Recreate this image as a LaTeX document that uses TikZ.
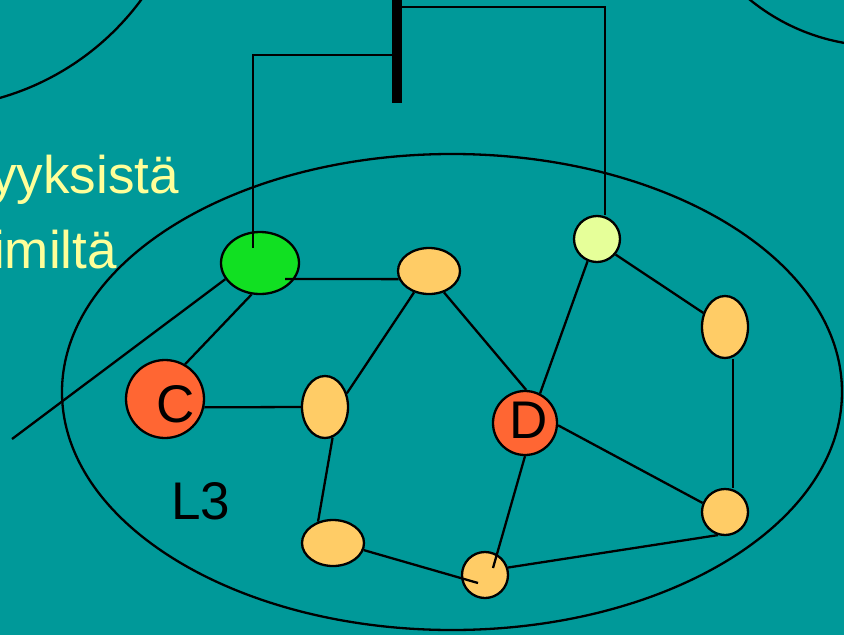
\documentclass[tikz,border=0pt]{standalone}
\usepackage{fontspec}
\setmainfont{Liberation Sans}
\usetikzlibrary{shapes.geometric}
\definecolor{slideteal}{RGB}{0,153,153}
\definecolor{textyellow}{RGB}{255,255,153}
\definecolor{nodegreen}{RGB}{17,224,34}
\definecolor{nodeorange}{RGB}{255,204,102}
\definecolor{nodered}{RGB}{255,102,51}
\definecolor{nodelight}{RGB}{230,255,153}
\tikzstyle{vertex}=[ellipse,draw,line width=2.3pt,inner sep=0pt,fill=nodeorange]
\tikzstyle{wide}=[minimum width=62pt,minimum height=46pt]
\tikzstyle{tall}=[minimum width=46pt,minimum height=62pt]
\tikzstyle{roundv}=[minimum width=46pt,minimum height=46pt]
\tikzstyle{router}=[circle,minimum size=64pt,fill=nodered]
\tikzstyle{link}=[line width=2.3pt]
\tikzstyle{bigfont}=[font=\fontsize{53pt}{60pt}\selectfont,inner sep=0pt]

\begin{document}
\begin{tikzpicture}[x=1pt,y=-1pt]
\clip (0, 0) rectangle (844, 635);
\fill[slideteal] (0, 0) rectangle (844, 635);
% areas
\draw[link] (-73, -158) circle (266pt);
\draw[link] (880, -160) circle (206pt);
\draw[link] (452, 392) ellipse (390pt and 238pt);
\node[bigfont, text=textyellow, anchor=base east] at (179, 193) (txta) {yyksistä};
\node[bigfont, text=textyellow, anchor=base east] at (117, 268) (txtb) {imiltä};
\node[bigfont, anchor=base west] at (171, 519) (area) {L3};
% backbone
\node[fill=black, minimum width=10pt, minimum height=103pt, inner sep=0pt, anchor=north] at (397, 0) (bus) {};
% nodes
\node[vertex, fill=nodegreen, minimum width=78pt, minimum height=62pt] at (260, 263) (g) {};
\node[vertex, wide] at (429, 271) (a) {};
\node[vertex, roundv, fill=nodelight] at (597, 239) (ly) {};
\node[vertex, tall] at (725, 327) (re) {};
\node[vertex, router, minimum size=78pt, label={[bigfont, xshift=11pt, yshift=-5pt]center:C}] at (165, 399) (c) {};
\node[vertex, tall] at (325, 407) (m) {};
\node[vertex, router, label={[bigfont, xshift=4pt, yshift=3pt]center:D}] at (525, 423) (d) {};
\node[vertex, wide] at (333, 543) (bl) {};
\node[vertex, roundv] at (485, 575) (bc) {};
\node[vertex, roundv] at (725, 512) (rc) {};
\coordinate (tail) at (12, 439);
% links
\draw[link] ([yshift=-7pt]bus.north east) -| ([xshift=8pt]ly.north);
\draw[link] ([yshift=-55pt]bus.north west) -| ([xshift=-7pt,yshift=15pt]g.center);
\draw[link] ([xshift=25pt,yshift=-16pt]g.center) -- (a.195);
\draw[link] (g.255) -- (c.60);
\draw[link] (tail) -- (g.205);
\draw[link] (c.-12) -- (m.west);
\draw[link] (m.32) -- (a.235);
\draw[link] (m.-76) -- (bl.125);
\draw[link] (bl.-13) -- ([xshift=-7pt,yshift=-8pt]bc.center);
\draw[link] (a.-55) -- (d.88);
\draw[link] (ly.247) -- (d.63);
\draw[link] (ly.-40) -- (re.147);
\draw[link] ([xshift=8pt]re.south) -- ([xshift=8pt]rc.north);
\draw[link] (d.-4) -- (rc.158);
\draw[link] (d.south) -- ([xshift=8pt,yshift=7pt]bc.center);
\draw[link] (rc.253) -- (bc.18);
\end{tikzpicture}
\end{document}
